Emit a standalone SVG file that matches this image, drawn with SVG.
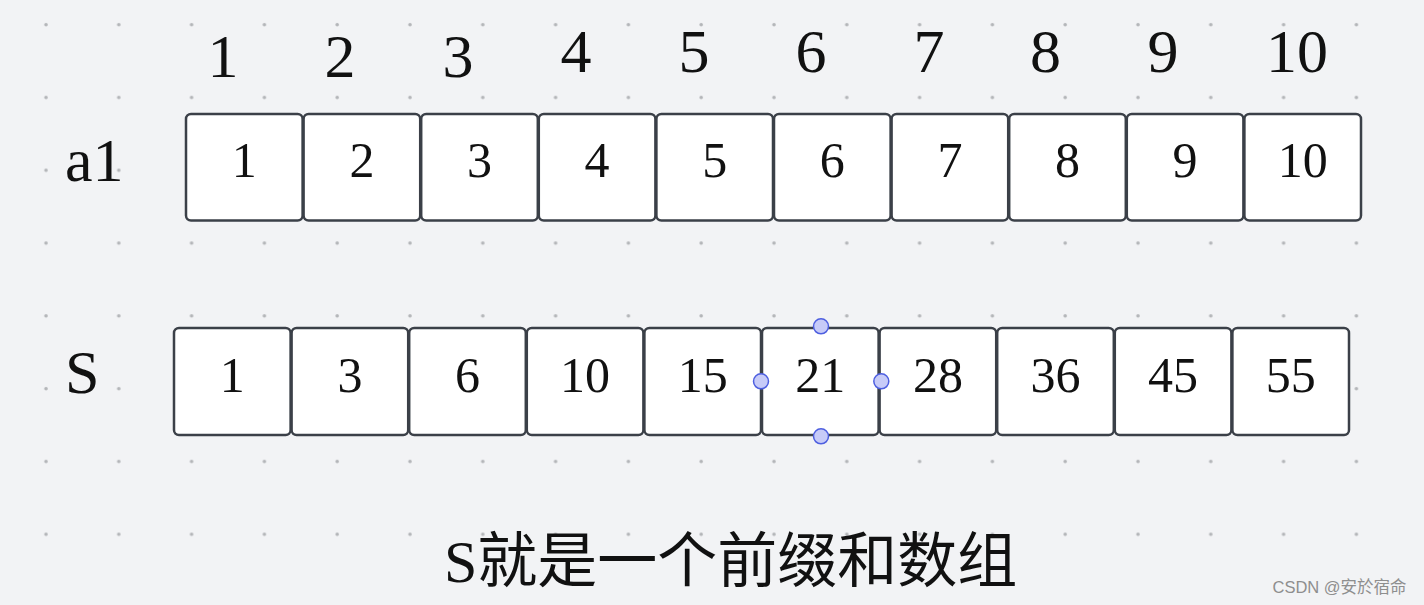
<svg xmlns="http://www.w3.org/2000/svg" width="1424" height="605" viewBox="0 0 1424 605">
  <defs>
    <pattern id="dots" x="0" y="0" width="72.8" height="72.8" patternUnits="userSpaceOnUse">
      <circle cx="46" cy="24.7" r="1.8" fill="#b3b5b8"/>
    </pattern>
  </defs>
  <style>
    .cell { fill: #ffffff; stroke: #3b4048; stroke-width: 2.5; }
    .num { font-family: "Liberation Serif", "Times New Roman", serif; font-size: 50px; fill: #111111; text-anchor: middle; }
    .idx { font-family: "Liberation Serif", "Times New Roman", serif; font-size: 62px; fill: #111111; text-anchor: middle; }
    .lbl { font-family: "Liberation Serif", "Times New Roman", serif; font-size: 62px; fill: #111111; }
    .handle { fill: #c7cbf8; stroke: #4e5fe0; stroke-width: 1.5; }
    .cap { font-family: "Liberation Serif", "Noto Sans CJK SC", serif; font-size: 60px; fill: #111111; }
    .wm { font-family: "Liberation Sans", "Noto Sans CJK SC", sans-serif; font-size: 16.5px; fill: #8e8e8e; }
  </style>
  <rect x="0" y="0" width="1424" height="605" fill="#f2f3f5"/>
  <rect x="0" y="0" width="1424" height="605" fill="url(#dots)"/>

  <g id="index-labels">
    <text class="idx" x="223" y="77">1</text>
    <text class="idx" x="340" y="77">2</text>
    <text class="idx" x="458" y="77">3</text>
    <text class="idx" x="576" y="72">4</text>
    <text class="idx" x="694" y="72">5</text>
    <text class="idx" x="811" y="72">6</text>
    <text class="idx" x="929" y="72">7</text>
    <text class="idx" x="1045.5" y="72">8</text>
    <text class="idx" x="1163" y="72">9</text>
    <text class="idx" x="1297" y="72">10</text>
  </g>

  <g id="label-a1"><text class="lbl" x="65" y="181">a1</text></g>
  <g id="label-S"><text class="lbl" x="65" y="393">S</text></g>

  <g id="row-a1">
    <g id="a1-1"><rect class="cell" x="186" y="114" width="116.6" height="106.5" rx="5"/><text class="num" x="244.3" y="176.7">1</text></g>
    <g id="a1-2"><rect class="cell" x="303.6" y="114" width="116.6" height="106.5" rx="5"/><text class="num" x="361.9" y="176.7">2</text></g>
    <g id="a1-3"><rect class="cell" x="421.2" y="114" width="116.6" height="106.5" rx="5"/><text class="num" x="479.5" y="176.7">3</text></g>
    <g id="a1-4"><rect class="cell" x="538.8" y="114" width="116.6" height="106.5" rx="5"/><text class="num" x="597.1" y="176.7">4</text></g>
    <g id="a1-5"><rect class="cell" x="656.4" y="114" width="116.6" height="106.5" rx="5"/><text class="num" x="714.7" y="176.7">5</text></g>
    <g id="a1-6"><rect class="cell" x="774" y="114" width="116.6" height="106.5" rx="5"/><text class="num" x="832.3" y="176.7">6</text></g>
    <g id="a1-7"><rect class="cell" x="891.6" y="114" width="116.6" height="106.5" rx="5"/><text class="num" x="949.9" y="176.7">7</text></g>
    <g id="a1-8"><rect class="cell" x="1009.2" y="114" width="116.6" height="106.5" rx="5"/><text class="num" x="1067.5" y="176.7">8</text></g>
    <g id="a1-9"><rect class="cell" x="1126.8" y="114" width="116.6" height="106.5" rx="5"/><text class="num" x="1185.1" y="176.7">9</text></g>
    <g id="a1-10"><rect class="cell" x="1244.4" y="114" width="116.6" height="106.5" rx="5"/><text class="num" x="1302.7" y="176.7">10</text></g>
  </g>

  <g id="row-S">
    <g id="S-1"><rect class="cell" x="174" y="328" width="116.6" height="107" rx="5"/><text class="num" x="232.3" y="391.7">1</text></g>
    <g id="S-2"><rect class="cell" x="291.6" y="328" width="116.6" height="107" rx="5"/><text class="num" x="349.9" y="391.7">3</text></g>
    <g id="S-3"><rect class="cell" x="409.2" y="328" width="116.6" height="107" rx="5"/><text class="num" x="467.5" y="391.7">6</text></g>
    <g id="S-4"><rect class="cell" x="526.8" y="328" width="116.6" height="107" rx="5"/><text class="num" x="585.1" y="391.7">10</text></g>
    <g id="S-5"><rect class="cell" x="644.4" y="328" width="116.6" height="107" rx="5"/><text class="num" x="702.7" y="391.7">15</text></g>
    <g id="S-6"><rect class="cell" x="762" y="328" width="116.6" height="107" rx="5"/><text class="num" x="820.3" y="391.7">21</text></g>
    <g id="S-7"><rect class="cell" x="879.6" y="328" width="116.6" height="107" rx="5"/><text class="num" x="937.9" y="391.7">28</text></g>
    <g id="S-8"><rect class="cell" x="997.2" y="328" width="116.6" height="107" rx="5"/><text class="num" x="1055.5" y="391.7">36</text></g>
    <g id="S-9"><rect class="cell" x="1114.8" y="328" width="116.6" height="107" rx="5"/><text class="num" x="1173.1" y="391.7">45</text></g>
    <g id="S-10"><rect class="cell" x="1232.4" y="328" width="116.6" height="107" rx="5"/><text class="num" x="1290.7" y="391.7">55</text></g>
  </g>

  <g id="selection-handles">
    <circle class="handle" cx="821" cy="326.3" r="7.5"/>
    <circle class="handle" cx="821" cy="436.3" r="7.5"/>
    <circle class="handle" cx="761" cy="381.3" r="7.5"/>
    <circle class="handle" cx="881.3" cy="381.3" r="7.5"/>
  </g>

  <g id="connectors"></g>

  <g id="caption"><text class="cap" x="444" y="582">S就是一个前缀和数组</text></g>

  <g id="watermark"><text class="wm" x="1272.5" y="593">CSDN @安於宿命</text></g>
</svg>
